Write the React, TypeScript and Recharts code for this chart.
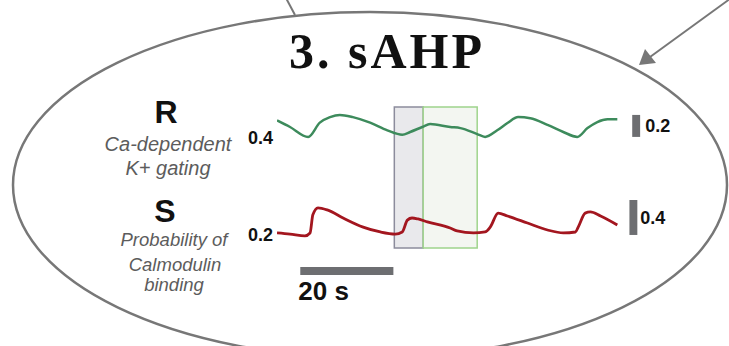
import React from 'react';
import {
  LineChart,
  Line,
  XAxis,
  YAxis,
  ReferenceArea,
  ReferenceDot,
} from 'recharts';

// time in seconds, R = Ca-dependent K+ gating, S = probability of calmodulin binding
const rTime = [0, 2.8, 6.7, 9.2, 11.4, 13.5, 16.3, 20.0, 23.7, 26.9, 28.6, 31.2, 32.9, 37.2, 39.4, 43.0, 44.7, 47.3, 49.5, 51.8, 54.4, 58.1, 61.5, 64.5, 66.7, 68.8, 71.0, 73.1];
const rValues = [0.56, 0.5, 0.41, 0.54, 0.59, 0.61, 0.59, 0.54, 0.47, 0.43, 0.455, 0.5, 0.527, 0.5, 0.49, 0.436, 0.41, 0.47, 0.536, 0.59, 0.58, 0.52, 0.455, 0.41, 0.49, 0.545, 0.57, 0.57];

const sTime = [0, 2.8, 6.0, 7.1, 7.7, 8.8, 10.8, 14.2, 18.5, 22.2, 25.4, 26.9, 28.0, 29.0, 30.3, 32.3, 37.2, 38.7, 42.2, 44.7, 45.8, 47.5, 49.5, 53.8, 58.1, 61.5, 64.1, 64.7, 66.2, 67.3, 69.5, 73.1];
const sValues = [0.223, 0.21, 0.19, 0.223, 0.43, 0.51, 0.486, 0.394, 0.29, 0.234, 0.21, 0.234, 0.37, 0.394, 0.383, 0.35, 0.28, 0.246, 0.223, 0.234, 0.29, 0.45, 0.417, 0.337, 0.257, 0.223, 0.234, 0.29, 0.45, 0.463, 0.417, 0.314];

// highlighted windows (s)
const grayWindow = [25.2, 31.4];
const greenWindow = [31.4, 43.0];

// scale bars
const rScaleBar = { t: [76.3, 78.0], v: [0.41, 0.61], label: '0.2' };
const sScaleBar = { t: [75.7, 77.4], v: [0.2, 0.6], label: '0.4' };
const timeBar = { t: [5, 25], label: '20 s' };

// baseline value marks at the start of each trace
const rBaseline = 0.4;
const sBaseline = 0.2;

const rData = rTime.map((t, i) => ({ t, r: rValues[i] }));
const sData = sTime.map((t, i) => ({ t, s: sValues[i] }));

const W = 729;
const H = 346;
const sans = '"Liberation Sans", Arial, sans-serif';

const Backdrop = () => (
  <svg width={W} height={H} style={{ position: 'absolute', left: 0, top: 0 }}>
    <ellipse cx={370} cy={185} rx={357} ry={173} fill="none" stroke="#777" strokeWidth={2.5} />
    <line x1={286} y1={-2} x2={295} y2={15} stroke="#777" strokeWidth={2} />
    <line x1={734} y1={-4} x2={650} y2={57} stroke="#777" strokeWidth={2} />
    <polygon points="639,65 645,49 656,63" fill="#777" />
    <text x={387} y={68} textAnchor="middle" fontFamily='"Liberation Serif", "Times New Roman", serif'
      fontWeight="bold" fontSize={50} letterSpacing={3} fill="#111">3. sAHP</text>
    <g fontFamily={sans} textAnchor="middle">
      <text x={166} y={123} fontSize={32} fontWeight="bold" fill="#111">R</text>
      <text x={168} y={151} fontSize={20} fontStyle="italic" fill="#5c5c5c">Ca-dependent</text>
      <text x={168} y={175} fontSize={20} fontStyle="italic" fill="#5c5c5c">K+ gating</text>
      <text x={165} y={222} fontSize={32} fontWeight="bold" fill="#111">S</text>
      <text x={174} y={246} fontSize={18.5} fontStyle="italic" fill="#5c5c5c">Probability of</text>
      <text x={175} y={271} fontSize={18.5} fontStyle="italic" fill="#5c5c5c">Calmodulin</text>
      <text x={174} y={291} fontSize={18.5} fontStyle="italic" fill="#5c5c5c">binding</text>
    </g>
  </svg>
);

const barLabel = (text: string, dx: number) => (props: any) => {
  const vb = props.viewBox || {};
  return (
    <text x={vb.x + vb.width + dx} y={vb.y + vb.height / 2} dy="0.355em" fontFamily={sans}
      fontWeight="bold" fontSize={18} fill="#111">{text}</text>
  );
};

const valueLabel = (text: string) => (props: any) => {
  const vb = props.viewBox || {};
  const cx = vb.cx ?? vb.x ?? 0;
  const cy = vb.cy ?? vb.y ?? 0;
  return (
    <text x={cx - 4} y={cy} dy="0.355em" textAnchor="end" fontFamily={sans}
      fontWeight="bold" fontSize={18} fill="#111">{text}</text>
  );
};

const timeLabel = (props: any) => {
  const vb = props.viewBox || {};
  return (
    <text x={vb.x - 2} y={vb.y + vb.height + 25} fontFamily={sans} fontWeight="bold" fontSize={26} fill="#111">
      {timeBar.label}
    </text>
  );
};

const App: React.FC = () => {
  return (
    <div style={{ position: 'absolute', left: 0, top: 0, width: W, height: H, background: '#fff' }}>
      <Backdrop />
      <div style={{ position: 'absolute', left: 0, top: 0 }}>
        <LineChart width={W} height={H} margin={{ top: 107, right: 33, bottom: 98, left: 277 }}>
          <XAxis type="number" dataKey="t" domain={[0, 90]} hide allowDataOverflow />
          <YAxis yAxisId="r" type="number" domain={[-0.6, 0.682]} hide allowDataOverflow />
          <YAxis yAxisId="s" type="number" domain={[0.051, 1.663]} hide allowDataOverflow />
          <ReferenceArea yAxisId="r" x1={grayWindow[0]} x2={grayWindow[1]}
            fill="#e9e9ec" fillOpacity={1} stroke="#8c8c9c" strokeWidth={1.5} />
          <ReferenceArea yAxisId="r" x1={greenWindow[0]} x2={greenWindow[1]}
            fill="#f3f6f1" fillOpacity={1} stroke="#9fd48c" strokeWidth={1.5} />
          <ReferenceArea yAxisId="r" x1={rScaleBar.t[0]} x2={rScaleBar.t[1]} y1={rScaleBar.v[0]} y2={rScaleBar.v[1]}
            fill="#6d6e71" fillOpacity={1} ifOverflow="visible" label={barLabel(rScaleBar.label, 5)} />
          <ReferenceArea yAxisId="s" x1={sScaleBar.t[0]} x2={sScaleBar.t[1]} y1={sScaleBar.v[0]} y2={sScaleBar.v[1]}
            fill="#6d6e71" fillOpacity={1} ifOverflow="visible" label={barLabel(sScaleBar.label, 3)} />
          <ReferenceArea yAxisId="s" x1={timeBar.t[0]} x2={timeBar.t[1]} y1={-0.257} y2={-0.166}
            fill="#6d6e71" fillOpacity={1} ifOverflow="visible" label={timeLabel} />
          <ReferenceDot yAxisId="r" x={0} y={rBaseline} r={0} fill="none" stroke="none" ifOverflow="visible"
            label={valueLabel(String(rBaseline))} />
          <ReferenceDot yAxisId="s" x={0} y={sBaseline} r={0} fill="none" stroke="none" ifOverflow="visible"
            label={valueLabel(String(sBaseline))} />
          <Line yAxisId="r" data={rData} dataKey="r" type="monotone" stroke="#3d8b5c" strokeWidth={2.5}
            dot={false} isAnimationActive={false} />
          <Line yAxisId="s" data={sData} dataKey="s" type="monotone" stroke="#a3161f" strokeWidth={2.8}
            dot={false} isAnimationActive={false} />
        </LineChart>
      </div>
    </div>
  );
};

export default App;
